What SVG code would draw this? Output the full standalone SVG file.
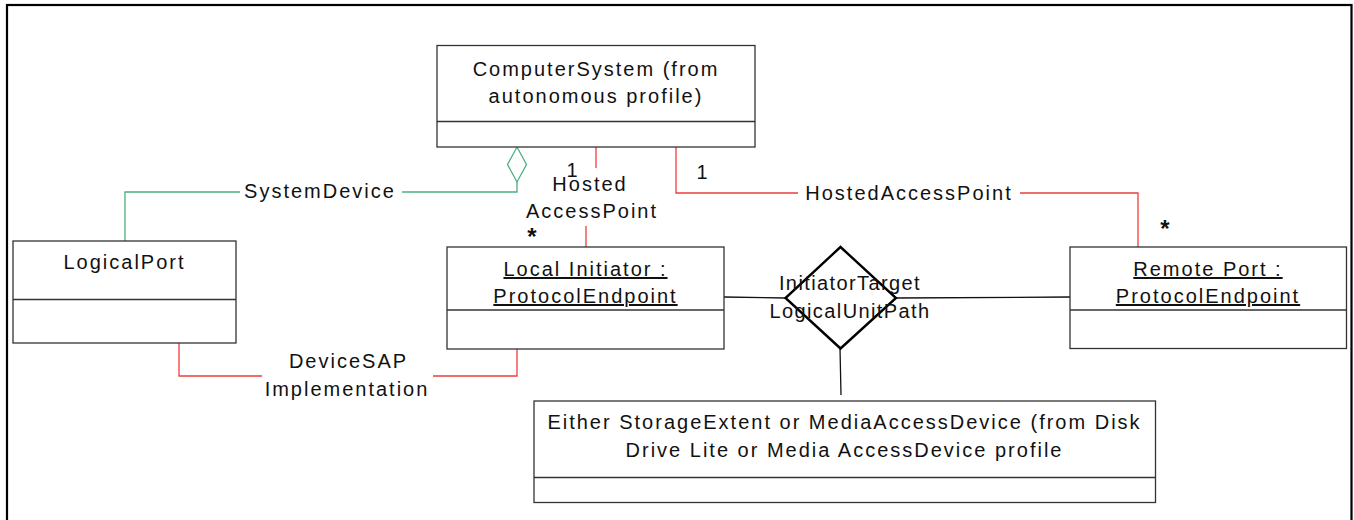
<svg xmlns="http://www.w3.org/2000/svg" width="1354" height="520" viewBox="0 0 1354 520">
<style>
text{font-family:"Liberation Sans",Arial,sans-serif;font-size:20px;letter-spacing:2px;fill:#111;text-anchor:middle}
.u{text-decoration:underline}
.box{fill:#fff;stroke:#333;stroke-width:1.3}
.div{stroke:#333;stroke-width:1.3}
.red{fill:none;stroke:#f03c3c;stroke-width:1.3}
.grn{fill:none;stroke:#4caf80;stroke-width:1.3}
.blk{fill:none;stroke:#111;stroke-width:1.3}
.star{font-weight:bold;font-size:24px;letter-spacing:0}
</style>
<rect width="1354" height="520" fill="#fff"/>
<rect x="7" y="5" width="1344.5" height="530" fill="none" stroke="#000" stroke-width="2.2"/>
<g id="connectors">
<path class="grn" d="M125 241 V192 H240 M402 192 H517 V182"/>
<path class="grn" d="M517 147 L526.5 164.5 L517 182 L507.5 164.5 Z" fill="#fff"/>
<path class="red" d="M596 147 V168 M586 226 V247"/>
<path class="red" d="M676 147 V193 H798 M1020 193 H1138 V247"/>
<path class="red" d="M179 343 V376 H262 M433 376 H517 V349"/>
<path class="blk" d="M724 297 L786 298 M896 298 L1070 297 M840 348 L841 395"/>
<path d="M840.5 247 L896 298 L840.5 348.5 L785.5 298 Z" fill="#fff" stroke="#000" stroke-width="2.4"/>
</g>
<g id="computersystem">
<rect class="box" x="437" y="45.5" width="318" height="101.5"/>
<line class="div" x1="437" y1="121.5" x2="755" y2="121.5"/>
<text x="596" y="76">ComputerSystem (from</text>
<text x="596" y="103">autonomous profile)</text>
</g>
<g id="logicalport">
<rect class="box" x="13" y="241" width="223" height="102"/>
<line class="div" x1="13" y1="299.5" x2="236" y2="299.5"/>
<text x="124.5" y="269">LogicalPort</text>
</g>
<g id="localinitiator">
<rect class="box" x="447" y="247" width="277" height="102"/>
<line class="div" x1="447" y1="310" x2="724" y2="310"/>
<text class="u" x="585.5" y="276">Local Initiator :</text>
<text class="u" x="585.5" y="303">ProtocolEndpoint</text>
</g>
<g id="remoteport">
<rect class="box" x="1070" y="247" width="276.5" height="101.5"/>
<line class="div" x1="1070" y1="310" x2="1346.5" y2="310"/>
<text class="u" x="1208" y="276">Remote Port :</text>
<text class="u" x="1208" y="303">ProtocolEndpoint</text>
</g>
<g id="storage">
<rect class="box" x="534" y="401" width="621.5" height="101.5"/>
<line class="div" x1="534" y1="477.5" x2="1155.5" y2="477.5"/>
<text x="844.5" y="429">Either StorageExtent or MediaAccessDevice (from Disk</text>
<text x="844.5" y="457">Drive Lite or Media AccessDevice profile</text>
</g>
<g id="labels">
<text x="320" y="197.5">SystemDevice</text>
<text x="572" y="177" style="letter-spacing:0">1</text>
<text x="590" y="191">Hosted</text>
<text x="592" y="217.5">AccessPoint</text>
<text class="star" x="532" y="245">*</text>
<text x="702" y="179" style="letter-spacing:0">1</text>
<text x="909" y="200">HostedAccessPoint</text>
<text class="star" x="1165" y="237">*</text>
<text x="850" y="290" style="letter-spacing:1.4px">InitiatorTarget</text>
<text x="850" y="317.5" style="letter-spacing:1.4px">LogicalUnitPath</text>
<text x="348.5" y="368">DeviceSAP</text>
<text x="347" y="395.5">Implementation</text>
</g>
</svg>
